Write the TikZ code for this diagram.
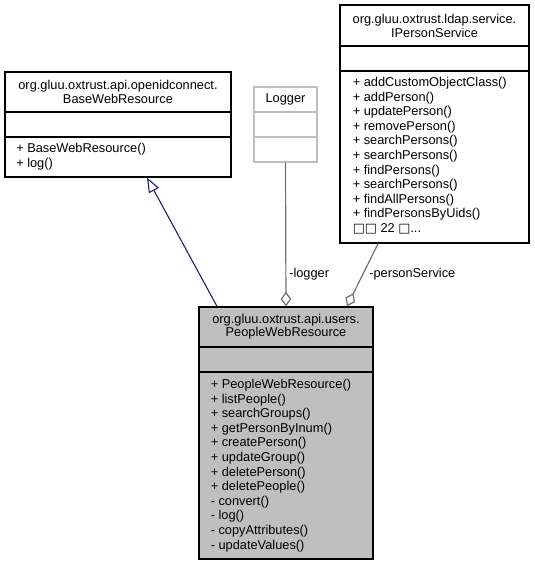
\documentclass[tikz,border=0pt]{standalone}
\usepackage{fontspec}
\setmainfont{Liberation Sans}
\newfontfamily\symfont{DejaVu Sans}
\usetikzlibrary{arrows.meta,calc,fit}
\definecolor{edgegrey}{HTML}{707070}
\definecolor{inhblue}{HTML}{191970}
\definecolor{clsfill}{HTML}{BFBFBF}
\definecolor{extgrey}{HTML}{BFBFBF}
\tikzset{
 classbox/.style={draw=black, line width=1pt, inner sep=0pt, fill=white},
 focusbox/.style={classbox, fill=clsfill},
 extbox/.style={draw=extgrey, line width=1pt, inner sep=0pt, fill=white},
 divider/.style={draw=black, line width=1pt},
 extdivider/.style={draw=extgrey, line width=1pt},
 titletext/.style={inner sep=0pt, align=center, font=\fontsize{9.6pt}{10pt}\selectfont},
 methtext/.style={inner sep=0pt, align=left, anchor=north west, font=\fontsize{9.6pt}{10.95pt}\selectfont},
 edgelabel/.style={inner sep=0pt, anchor=west, font=\fontsize{9.6pt}{11pt}\selectfont},
 inherit/.style={draw=inhblue, line width=0.8pt, -{Triangle[open, length=11pt, width=8.5pt, fill=white]}},
 aggreg/.style={draw=edgegrey, line width=0.9pt, {Diamond[open, length=11pt, width=8pt, fill=white]}-},
}
\begin{document}
\begin{tikzpicture}[x=0.75pt,y=-0.75pt]
\useasboundingbox (0,0) rectangle (535,565);

% BaseWebResource
\node[classbox, fit={(5,72) (231,177)}] (base) {};
\draw[divider] (5,112) -- (231,112);
\draw[divider] (5,137) -- (231,137);
\node[titletext] (basetitle) at (118,92) {org.gluu.oxtrust.api.openidconnect.\\BaseWebResource};
\node[methtext] (basemeth) at (16,143) {+ BaseWebResource()\\+ log()};

% Logger
\node[extbox, fit={(254,87) (317,162)}] (logger) {};
\draw[extdivider] (254,112) -- (317,112);
\draw[extdivider] (254,137) -- (317,137);
\node[titletext] (loggertitle) at (285.5,99.5) {Logger};

% IPersonService
\node[classbox, fit={(340,5) (529,243)}] (ipers) {};
\draw[divider] (340,46) -- (529,46);
\draw[divider] (340,71) -- (529,71);
\node[titletext] (iperstitle) at (434.5,26) {org.gluu.oxtrust.ldap.service.\\IPersonService};
\node[methtext] (ipersmeth) at (352.5,77) {+ addCustomObjectClass()\\+ addPerson()\\+ updatePerson()\\+ removePerson()\\+ searchPersons()\\+ searchPersons()\\+ findPersons()\\+ searchPersons()\\+ findAllPersons()\\+ findPersonsByUids()\\{\symfont □□} 22 {\symfont □}...};

% PeopleWebResource
\node[focusbox, fit={(199,307) (373,559)}] (people) {};
\draw[divider] (199,347) -- (373,347);
\draw[divider] (199,372) -- (373,372);
\node[titletext] (peopletitle) at (286,327) {org.gluu.oxtrust.api.users.\\PeopleWebResource};
\node[methtext] (peoplemeth) at (210.5,379) {+ PeopleWebResource()\\+ listPeople()\\+ searchGroups()\\+ getPersonByInum()\\+ createPerson()\\+ updateGroup()\\+ deletePerson()\\+ deletePeople()\\- convert()\\- log()\\- copyAttributes()\\- updateValues()};

% connectors
\draw[inherit] ($(people.north)+(-69,0)$) -- ($(base.south)+(29,0)$);
\draw[aggreg] (people.north) -- (logger.south);
\draw[aggreg] ($(people.north)+(61,0)$) -- ($(ipers.south)+(-56.5,0)$);
\node[edgelabel] (loggerlabel) at (289,274) {-logger};
\node[edgelabel] (perslabel) at (369,274) {-personService};
\end{tikzpicture}
\end{document}
